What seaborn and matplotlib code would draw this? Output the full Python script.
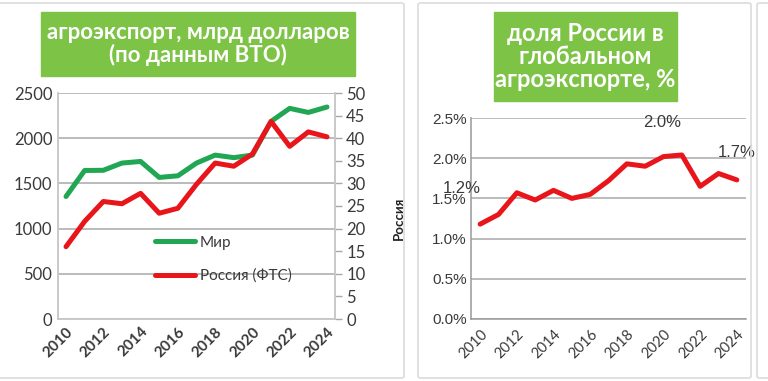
import matplotlib
matplotlib.use("Agg")
import numpy as np
import pandas as pd
import seaborn as sns
import matplotlib.pyplot as plt
from matplotlib.patches import FancyBboxPatch

years = list(range(2010, 2025))
world = [1355, 1643, 1645, 1725, 1743, 1566, 1584, 1725, 1813, 1785, 1813,
         2186, 2330, 2285, 2345]
russia = [16.0, 21.6, 26.0, 25.5, 27.8, 23.4, 24.5, 29.8, 34.5, 33.8, 36.5,
          43.7, 38.2, 41.4, 40.3]
share = [1.18, 1.30, 1.57, 1.48, 1.60, 1.50, 1.55, 1.72, 1.93, 1.90, 2.02,
         2.04, 1.65, 1.81, 1.73]
share_labels = {2010: "1.2%", 2020: "2.0%", 2024: "1.7%"}

left_title = "агроэкспорт, млрд долларов\n(по данным ВТО)"
right_title = "доля России в\nглобальном\nагроэкспорте, %"

GREEN = "#21a653"
RED = "#e8161b"
BOX = "#7cc346"
GRID = "#a8a8a8"
TXT = "#3a3a3a"

sns.set_theme(style="white")
plt.rcParams["font.family"] = ["Lato", "DejaVu Sans"]

W, H = 768, 381
fig = plt.figure(figsize=(W / 100, H / 100), dpi=100)


def fx(px):
    return px / W


def fy(py):
    return 1 - py / H


# panel frames
for x0, x1 in [(-10, 404), (418, 751), (757, 800)]:
    fig.patches.append(FancyBboxPatch((fx(x0), fy(378)), fx(x1 - x0), (375) / H,
                                      boxstyle="round,pad=0,rounding_size=0.004",
                                      transform=fig.transFigure, fill=False,
                                      ec="#dcdcdc", lw=1.2))

# title boxes
for (x0, x1, y0, y1, txt, fs) in [(41, 355, 12, 76, left_title, 16),
                                  (494, 677, 12, 101, right_title, 17)]:
    fig.patches.append(plt.Rectangle((fx(x0), fy(y1)), fx(x1 - x0), (y1 - y0) / H,
                                     transform=fig.transFigure, color=BOX))
    fig.text(fx((x0 + x1) / 2), fy((y0 + y1) / 2), txt, ha="center", va="center",
             color="white", fontsize=fs, fontweight="bold", linespacing=1.02)

# ---- left panel ----
df = pd.DataFrame({"year": years, "world": world, "russia": russia})
ax = fig.add_axes([fx(58), fy(319), fx(335 - 58), (319 - 93) / H])
ax2 = ax.twinx()
sns.lineplot(data=df, x="year", y="world", ax=ax, color=GREEN, lw=3.6,
             label="Мир", legend=False)
sns.lineplot(data=df, x="year", y="russia", ax=ax2, color=RED, lw=3.6,
             label="Россия (ФТС)", legend=False)
ax.set_xlim(2009.57, 2024.43)
ax.set_ylim(0, 2500)
ax2.set_ylim(0, 50)
ax.set_yticks(range(0, 2501, 500))
ax2.set_yticks(range(0, 51, 5))
ax.set_xticks(range(2010, 2025, 2))
ax.set_xticklabels([str(y) for y in range(2010, 2025, 2)], rotation=45,
                   ha="right", rotation_mode="anchor", fontweight="bold",
                   fontsize=11, color=TXT)
ax.tick_params(axis="x", length=0, pad=4)
ax.tick_params(axis="y", length=0, labelsize=12, labelcolor=TXT, pad=4)
ax2.tick_params(axis="y", length=5, width=1, color=GRID, labelsize=12,
                labelcolor=TXT, pad=3)
ax.set_xlabel("")
ax.set_ylabel("")
ax2.set_ylabel("")
ax.grid(axis="y", color=GRID, lw=1.1)
ax.set_axisbelow(True)
for a in (ax, ax2):
    a.spines["top"].set_visible(False)
    for s in ("left", "right", "bottom"):
        a.spines[s].set_color("#c8c8c8")
        a.spines[s].set_linewidth(1.1)
h1, l1 = ax.get_legend_handles_labels()
h2, l2 = ax2.get_legend_handles_labels()
ax2.legend(h1 + h2, l1 + l2, loc="upper left", bbox_to_anchor=(0.3, 0.43),
           frameon=False, handlelength=2.6, labelspacing=1.25, fontsize=11,
           labelcolor=TXT, handletextpad=0.35)

# ---- right panel ----
bx = fig.add_axes([fx(471), fy(319), fx(746 - 471), (319 - 118) / H])
sns.lineplot(x=years, y=share, ax=bx, color=RED, lw=3.6)
bx.set_xlim(2009.5, 2024.5)
bx.set_ylim(0, 2.5)
bx.set_yticks(np.arange(0, 2.51, 0.5))
bx.set_yticklabels([f"{v:.1f}%" for v in np.arange(0, 2.51, 0.5)],
                   family=["Liberation Sans"], fontsize=11, color=TXT)
bx.set_xticks(range(2010, 2025, 2))
bx.set_xticklabels([str(y) for y in range(2010, 2025, 2)], rotation=45,
                   ha="right", rotation_mode="anchor", fontsize=10.5,
                   color=TXT)
bx.set_xticks(np.arange(2009.5, 2025, 1), minor=True)
bx.tick_params(axis="x", which="major", length=0, pad=6)
bx.tick_params(axis="x", which="minor", length=5, width=1, color="#999999",
               direction="in")
bx.tick_params(axis="y", length=6, width=1, color="#999999", direction="in",
               pad=3)
bx.grid(axis="y", color=GRID, lw=1.1)
bx.set_axisbelow(True)
for s in ("top", "right"):
    bx.spines[s].set_visible(False)
for s in ("left", "bottom"):
    bx.spines[s].set_color("#999999")
    bx.spines[s].set_linewidth(1.1)
bx.set_ylabel("Россия", fontsize=9.5, fontweight="bold", color="#222222",
              labelpad=20)
for yr, lab in share_labels.items():
    i = years.index(yr)
    dx = {2010: -1.0, 2020: -0.1, 2024: 0}[yr]
    dy = {2010: 0.44, 2020: 0.42, 2024: 0.34}[yr]
    bx.text(yr + dx, share[i] + dy, lab, ha="center", va="center",
            family=["Liberation Sans"], fontsize=12, color=TXT)

fig.savefig("out.png", dpi=100)
